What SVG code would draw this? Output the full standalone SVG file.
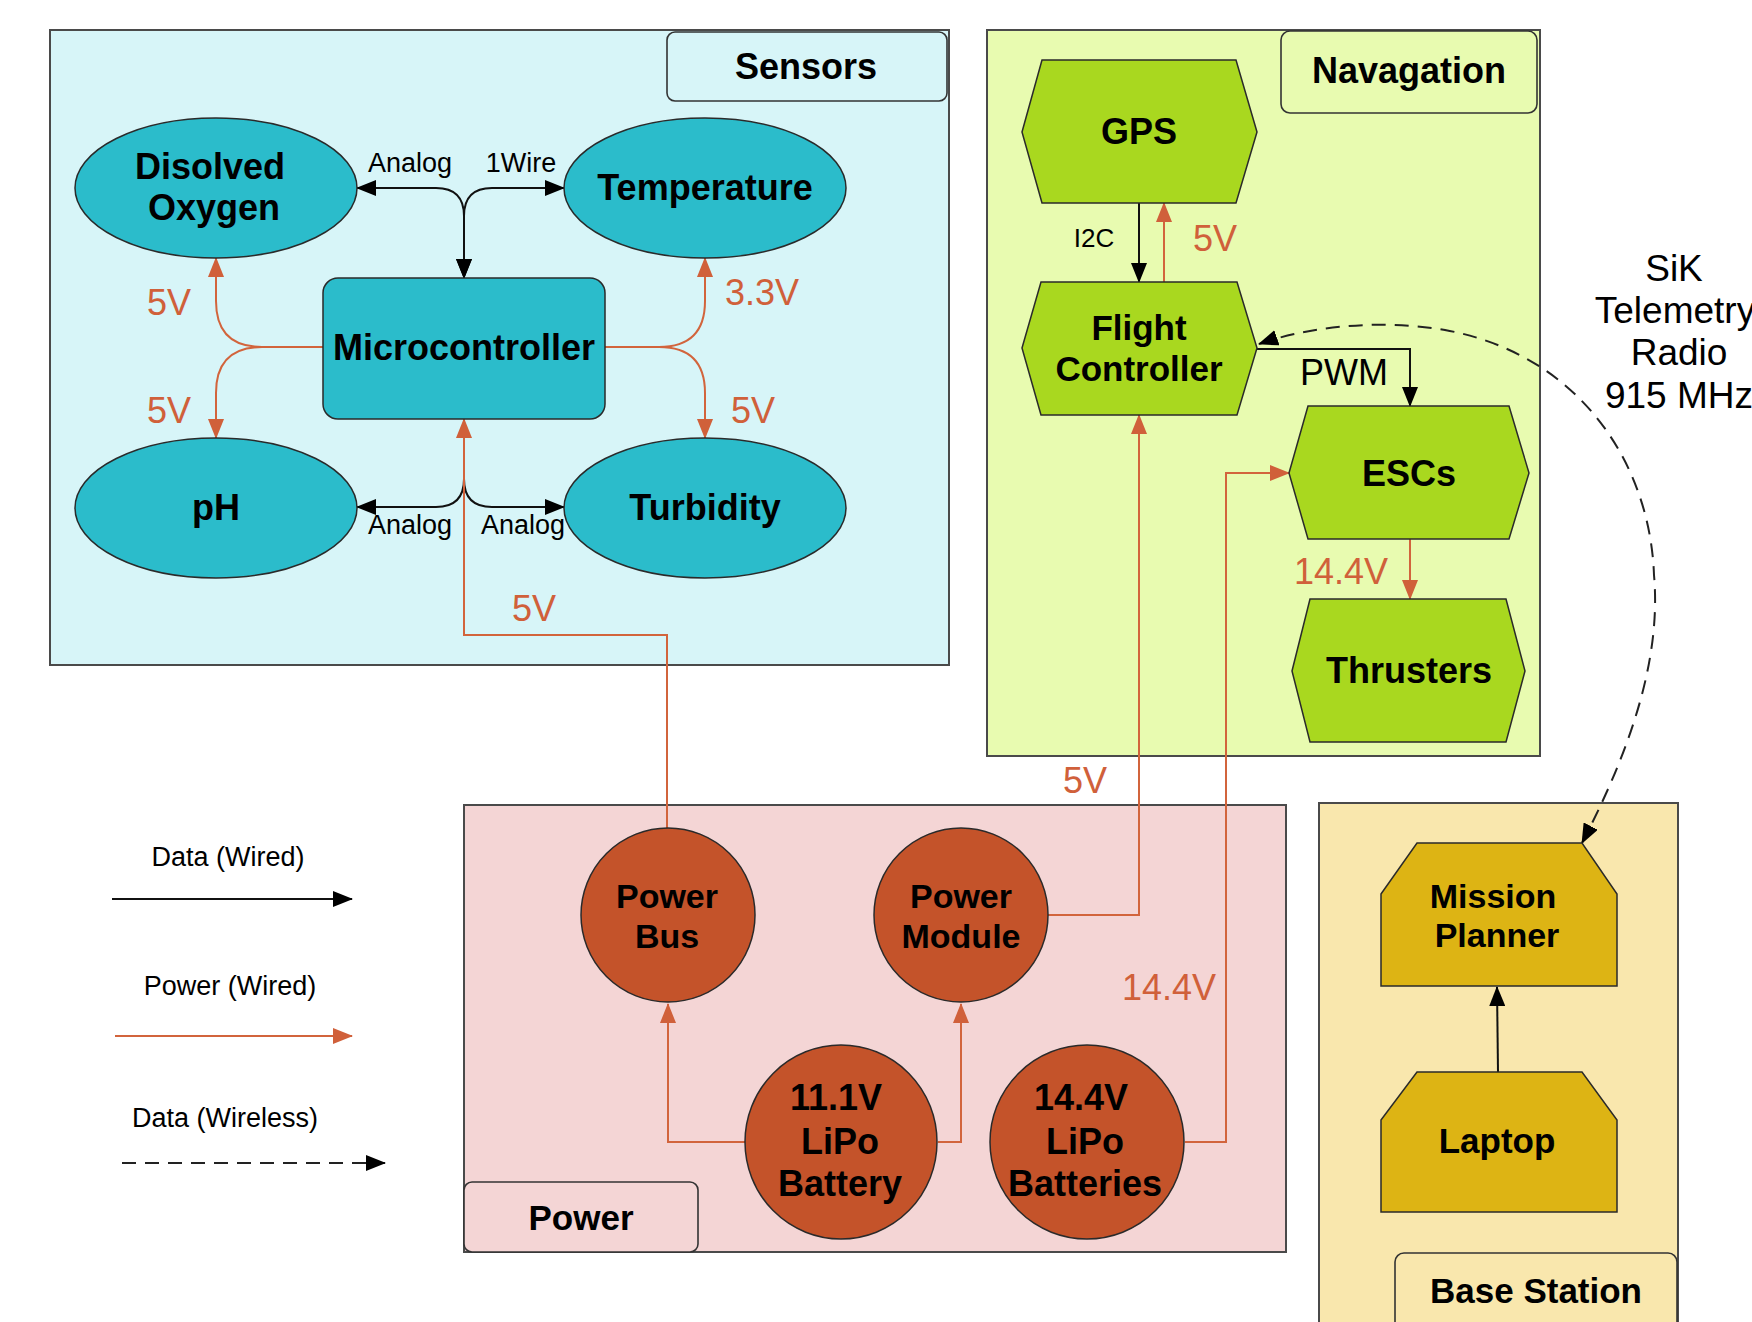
<svg xmlns="http://www.w3.org/2000/svg" width="1752" height="1322" viewBox="0 0 1752 1322">
<defs>
<style>
.t{font-family:"Liberation Sans",Arial,sans-serif;fill:#000;text-anchor:middle}
.b{font-weight:bold}
.o{fill:#d0603a}
.grp{stroke:#4a4a4a;stroke-width:2}
.lbl{stroke:#333;stroke-width:1.6}
.node{stroke:#2a2a2a;stroke-width:1.5}
.data{fill:none;stroke:#111;stroke-width:2}
.pwr{fill:none;stroke:#d2643c;stroke-width:2}
.wl{fill:none;stroke:#222;stroke-width:2;stroke-dasharray:14 9}
</style>
<marker id="ab" markerUnits="userSpaceOnUse" markerWidth="20" markerHeight="16" refX="19" refY="8" orient="auto-start-reverse"><path d="M0,0 L20,8 L0,16 z" fill="#000"/></marker>
<marker id="ao" markerUnits="userSpaceOnUse" markerWidth="20" markerHeight="16" refX="19" refY="8" orient="auto-start-reverse"><path d="M0,0 L20,8 L0,16 z" fill="#d0603a"/></marker>
</defs>
<rect width="1752" height="1322" fill="#fff"/>

<!-- group containers -->
<g id="sensors-group">
<rect x="50" y="30" width="899" height="635" fill="#d7f5f8" class="grp"/>
<rect x="667" y="32" width="280" height="69" rx="8" fill="#d7f5f8" class="lbl"/>
<text x="806" y="79" class="t b" font-size="36">Sensors</text>
</g>
<g id="navigation-group">
<rect x="987" y="30" width="553" height="726" fill="#e8fbb0" class="grp"/>
<rect x="1281" y="31" width="256" height="82" rx="9" fill="#e8fbb0" class="lbl"/>
<text x="1409" y="83" class="t b" font-size="36">Navagation</text>
</g>
<g id="power-group">
<rect x="464" y="805" width="822" height="447" fill="#f4d5d5" class="grp"/>
<rect x="464" y="1182" width="234" height="70" rx="8" fill="#f4d5d5" class="lbl"/>
<text x="581" y="1230" class="t b" font-size="35">Power</text>
</g>
<g id="base-station-group">
<rect x="1319" y="803" width="359" height="530" fill="#f9e7ad" class="grp"/>
<rect x="1395" y="1253" width="282" height="80" rx="9" fill="#f9e7ad" class="lbl"/>
<text x="1536" y="1303" class="t b" font-size="35">Base Station</text>
</g>

<!-- connectors -->
<g id="connectors">
<path class="data" d="M357,188 H436 Q464,188 464,216 V278" marker-start="url(#ab)" marker-end="url(#ab)"/>
<path class="data" d="M564,188 H492 Q464,188 464,216 V278" marker-start="url(#ab)" marker-end="url(#ab)"/>
<path class="data" d="M357,507 H436 Q464,507 464,479 V419" marker-start="url(#ab)"/>
<path class="data" d="M564,507 H492 Q464,507 464,479 V419" marker-start="url(#ab)"/>
<path class="pwr" d="M323,347 H262 Q216,347 216,301 V258" marker-end="url(#ao)"/>
<path class="pwr" d="M323,347 H262 Q216,347 216,393 V438" marker-end="url(#ao)"/>
<path class="pwr" d="M605,347 H659 Q705,347 705,301 V258" marker-end="url(#ao)"/>
<path class="pwr" d="M605,347 H659 Q705,347 705,393 V438" marker-end="url(#ao)"/>
<path class="pwr" d="M667,828 V635 H464 V419" marker-end="url(#ao)"/>
<path class="data" d="M1139,203 V282" marker-end="url(#ab)"/>
<path class="pwr" d="M1164,282 V203" marker-end="url(#ao)"/>
<path class="data" d="M1257,349 H1410 V406" marker-end="url(#ab)"/>
<path class="pwr" d="M1410,539 V599" marker-end="url(#ao)"/>
<path class="pwr" d="M1048,915 H1139 V415" marker-end="url(#ao)"/>
<path class="pwr" d="M745,1142 H668 V1004" marker-end="url(#ao)"/>
<path class="pwr" d="M938,1142 H961 V1004" marker-end="url(#ao)"/>
<path class="pwr" d="M1185,1142 H1226 V473 H1289" marker-end="url(#ao)"/>
<path class="data" d="M1498,1072 L1497,987" marker-end="url(#ab)"/>
<path class="wl" d="M1582,843 C1625,760 1662,665 1654,575 C1650,462 1578,354 1445,330 C1375,318 1305,328 1259,344" marker-start="url(#ab)" marker-end="url(#ab)"/>

<text x="410" y="172" class="t" font-size="27">Analog</text>
<text x="521" y="172" class="t" font-size="27">1Wire</text>
<text x="410" y="534" class="t" font-size="27">Analog</text>
<text x="523" y="534" class="t" font-size="27">Analog</text>
<text x="169" y="315" class="t o" font-size="36">5V</text>
<text x="169" y="423" class="t o" font-size="36">5V</text>
<text x="762" y="305" class="t o" font-size="36">3.3V</text>
<text x="753" y="423" class="t o" font-size="36">5V</text>
<text x="534" y="621" class="t o" font-size="36">5V</text>
<text x="1094" y="247" class="t" font-size="26">I2C</text>
<text x="1215" y="251" class="t o" font-size="36">5V</text>
<text x="1344" y="385" class="t" font-size="36">PWM</text>
<text x="1341" y="584" class="t o" font-size="36">14.4V</text>
<text x="1085" y="793" class="t o" font-size="36">5V</text>
<text x="1169" y="1000" class="t o" font-size="36">14.4V</text>
<text class="t" font-size="37"><tspan x="1674" y="281">SiK</tspan><tspan x="1675" y="323">Telemetry</tspan><tspan x="1679" y="365">Radio</tspan><tspan x="1679" y="408">915 MHz</tspan></text>
</g>

<!-- sensors nodes -->
<g id="dissolved-oxygen">
<ellipse cx="216" cy="188" rx="141" ry="70" fill="#2bbccb" class="node"/>
<text class="t b" font-size="36"><tspan x="210" y="179">Disolved</tspan><tspan x="214" y="220">Oxygen</tspan></text>
</g>
<g id="temperature">
<ellipse cx="705" cy="188" rx="141" ry="70" fill="#2bbccb" class="node"/>
<text x="705" y="200" class="t b" font-size="36">Temperature</text>
</g>
<g id="ph">
<ellipse cx="216" cy="508" rx="141" ry="70" fill="#2bbccb" class="node"/>
<text x="216" y="520" class="t b" font-size="36">pH</text>
</g>
<g id="turbidity">
<ellipse cx="705" cy="508" rx="141" ry="70" fill="#2bbccb" class="node"/>
<text x="705" y="520" class="t b" font-size="36">Turbidity</text>
</g>
<g id="microcontroller">
<rect x="323" y="278" width="282" height="141" rx="15" fill="#2bbccb" class="node"/>
<text x="464" y="360" class="t b" font-size="36">Microcontroller</text>
</g>

<!-- navigation nodes -->
<g id="gps">
<polygon points="1022,132 1042,60 1236,60 1257,132 1236,203 1042,203" fill="#a9d81f" class="node"/>
<text x="1139" y="144" class="t b" font-size="36">GPS</text>
</g>
<g id="flight-controller">
<polygon points="1022,348 1041,282 1237,282 1257,348 1237,415 1041,415" fill="#a9d81f" class="node"/>
<text class="t b" font-size="35"><tspan x="1139" y="340">Flight</tspan><tspan x="1139" y="381">Controller</tspan></text>
</g>
<g id="escs">
<polygon points="1289,473 1308,406 1509,406 1529,473 1509,539 1308,539" fill="#a9d81f" class="node"/>
<text x="1409" y="486" class="t b" font-size="36">ESCs</text>
</g>
<g id="thrusters">
<polygon points="1292,671 1310,599 1506,599 1525,671 1506,742 1310,742" fill="#a9d81f" class="node"/>
<text x="1409" y="683" class="t b" font-size="36">Thrusters</text>
</g>

<!-- power nodes -->
<g id="power-bus">
<ellipse cx="668" cy="915" rx="87" ry="87" fill="#c4532a" class="node"/>
<text class="t b" font-size="34"><tspan x="667" y="908">Power</tspan><tspan x="667" y="948">Bus</tspan></text>
</g>
<g id="power-module">
<ellipse cx="961" cy="915" rx="87" ry="87" fill="#c4532a" class="node"/>
<text class="t b" font-size="34"><tspan x="961" y="908">Power</tspan><tspan x="961" y="948">Module</tspan></text>
</g>
<g id="lipo-11v">
<ellipse cx="841" cy="1142" rx="96" ry="97" fill="#c4532a" class="node"/>
<text class="t b" font-size="36"><tspan x="836" y="1110">11.1V</tspan><tspan x="840" y="1154">LiPo</tspan><tspan x="840" y="1196">Battery</tspan></text>
</g>
<g id="lipo-14v">
<ellipse cx="1087" cy="1142" rx="97" ry="97" fill="#c4532a" class="node"/>
<text class="t b" font-size="36"><tspan x="1081" y="1110">14.4V</tspan><tspan x="1085" y="1154">LiPo</tspan><tspan x="1085" y="1196">Batteries</tspan></text>
</g>

<!-- base station nodes -->
<g id="mission-planner">
<polygon points="1381,894 1417,843 1582,843 1617,894 1617,986 1381,986" fill="#ddb414" class="node"/>
<text class="t b" font-size="34"><tspan x="1493" y="908">Mission</tspan><tspan x="1497" y="947">Planner</tspan></text>
</g>
<g id="laptop">
<polygon points="1381,1120 1417,1072 1582,1072 1617,1120 1617,1212 1381,1212" fill="#ddb414" class="node"/>
<text x="1497" y="1153" class="t b" font-size="35">Laptop</text>
</g>

<!-- legend -->
<g id="legend">
<text x="228" y="866" class="t" font-size="27">Data (Wired)</text>
<line x1="112" y1="899" x2="352" y2="899" class="data" marker-end="url(#ab)"/>
<text x="230" y="995" class="t" font-size="27">Power (Wired)</text>
<line x1="115" y1="1036" x2="352" y2="1036" class="pwr" marker-end="url(#ao)"/>
<text x="225" y="1127" class="t" font-size="27">Data (Wireless)</text>
<line x1="122" y1="1163" x2="385" y2="1163" class="wl" marker-end="url(#ab)"/>
</g>
</svg>
